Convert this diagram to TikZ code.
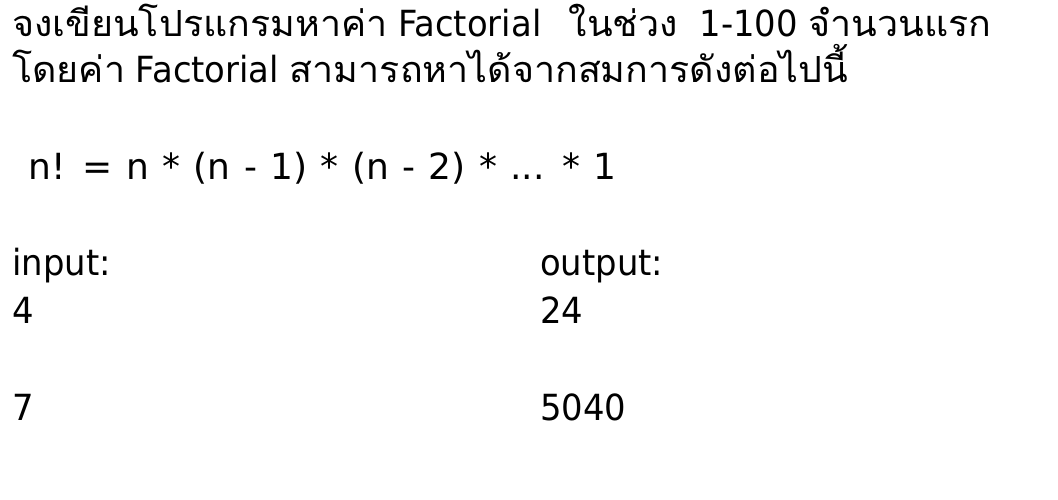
\documentclass[tikz,border=0pt]{standalone}
\usepackage{fontspec}
\setmainfont{DejaVu Sans}[FakeStretch=0.94]
\newfontfamily\thaifont[Script=Thai,FakeStretch=1.045]{Loma}
\newfontfamily\formfont{DejaVu Sans}[WordSpace=1.17]
\newcommand{\thtxt}[1]{{\thaifont #1}}
\begin{document}
\begin{tikzpicture}[x=1pt,y=-1pt,
  txt/.style={anchor=base west,inner sep=0pt,font=\fontsize{36}{40}\selectfont}]
\useasboundingbox[fill=white] (0,0) rectangle (1058,499);
\node[txt] (l1) at (12,36) {\thtxt{จงเขียนโปรแกรมหาค่า} Factorial\ \ \hspace{6pt}\thtxt{ในช่วง}\ \ 1-100 \thtxt{จำนวนแรก}};
\node[txt] (l2) at (12,82) {\thtxt{โดยค่า} Factorial \thtxt{สามารถหาได้จากสมการดังต่อไปนี้}};
\node[txt,font=\fontsize{36}{40}\formfont] (f) at (28,179) {n! = n * (n - 1) * (n - 2) * ... * 1};
\node[txt] (in) at (12,275) {input:};
\node[txt] (out) at (540,275) {output:};
\node[txt] (i1) at (12,323) {4};
\node[txt] (o1) at (540,323) {24};
\node[txt] (i2) at (12,420) {7};
\node[txt] (o2) at (540,420) {5040};
\end{tikzpicture}
\end{document}
